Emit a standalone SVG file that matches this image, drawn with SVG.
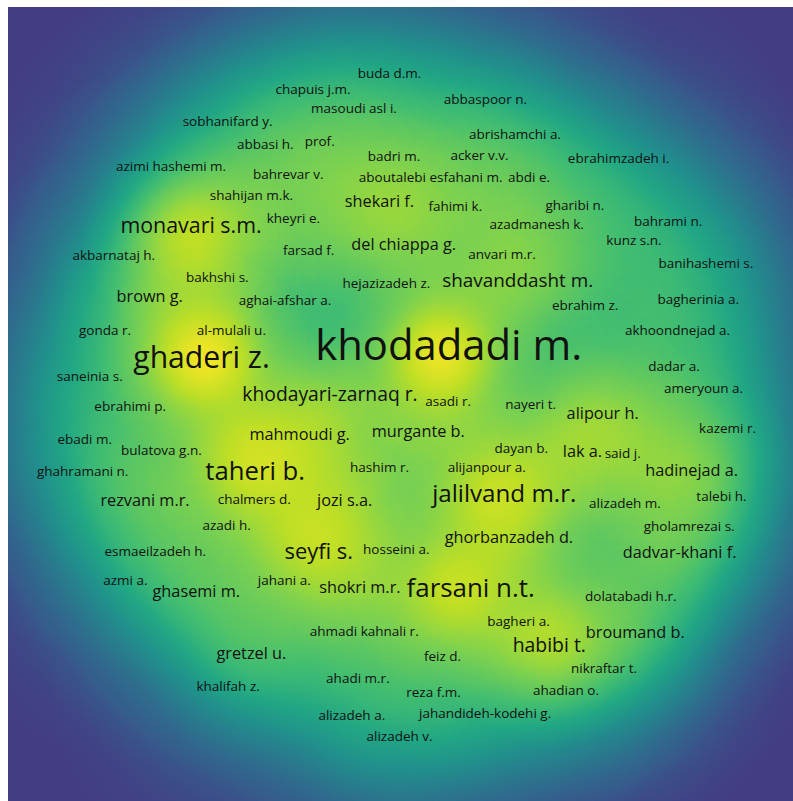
<svg xmlns="http://www.w3.org/2000/svg" width="793" height="801" viewBox="0 0 793 801">
<defs>
<style>
.lbl{font-family:"Open Sans","DejaVu Sans",sans-serif;fill:#111;text-anchor:middle}
.s{font-size:13.5px}
.m{font-size:16.3px}
.k{fill:url(#kg)}
.b1{fill-opacity:.15}
.b2{fill-opacity:.19}
.b3{fill-opacity:.23}
</style>
<radialGradient id="kg">
<stop offset="0" stop-color="#fff" stop-opacity="1"/>
<stop offset="0.1" stop-color="#fff" stop-opacity="0.966"/>
<stop offset="0.2" stop-color="#fff" stop-opacity="0.871"/>
<stop offset="0.3" stop-color="#fff" stop-opacity="0.733"/>
<stop offset="0.4" stop-color="#fff" stop-opacity="0.575"/>
<stop offset="0.5" stop-color="#fff" stop-opacity="0.421"/>
<stop offset="0.6" stop-color="#fff" stop-opacity="0.287"/>
<stop offset="0.7" stop-color="#fff" stop-opacity="0.183"/>
<stop offset="0.8" stop-color="#fff" stop-opacity="0.109"/>
<stop offset="0.9" stop-color="#fff" stop-opacity="0.055"/>
<stop offset="1" stop-color="#fff" stop-opacity="0"/>
</radialGradient>
<filter id="vir" filterUnits="userSpaceOnUse" x="8" y="7" width="785" height="794" color-interpolation-filters="sRGB">
<feComponentTransfer>
<feFuncR type="table" tableValues="0.263 0.208 0.165 0.129 0.133 0.267 0.478 0.741 0.992"/>
<feFuncG type="table" tableValues="0.243 0.373 0.471 0.569 0.659 0.749 0.820 0.875 0.906"/>
<feFuncB type="table" tableValues="0.522 0.553 0.557 0.549 0.518 0.439 0.318 0.149 0.145"/>
</feComponentTransfer>
</filter>
</defs>
<rect width="793" height="801" fill="#fff"/>
<g id="density" filter="url(#vir)">
<rect x="8" y="7" width="785" height="794" fill="#000"/>
<g class="k">
<circle class="b1" cx="389.5" cy="74" r="180"/>
<circle class="b1" cx="313" cy="90" r="180"/>
<circle class="b1" cx="354" cy="109" r="180"/>
<circle class="b1" cx="485.4" cy="100" r="180"/>
<circle class="b1" cx="227.6" cy="122" r="180"/>
<circle class="b1" cx="265.3" cy="145" r="180"/>
<circle class="b1" cx="319.7" cy="142" r="180"/>
<circle class="b1" cx="515" cy="135" r="180"/>
<circle class="b1" cx="394" cy="157" r="180"/>
<circle class="b1" cx="479.5" cy="156" r="180"/>
<circle class="b1" cx="618.6" cy="159" r="180"/>
<circle class="b1" cx="171" cy="167" r="180"/>
<circle class="b1" cx="288.3" cy="175" r="180"/>
<circle class="b1" cx="430.7" cy="178" r="180"/>
<circle class="b1" cx="529" cy="178" r="180"/>
<circle class="b1" cx="251.4" cy="196" r="180"/>
<circle class="b1" cx="455.3" cy="207" r="180"/>
<circle class="b1" cx="574.9" cy="206" r="180"/>
<circle class="b1" cx="293.4" cy="219" r="180"/>
<circle class="b1" cx="536.7" cy="225" r="180"/>
<circle class="b1" cx="668.2" cy="222" r="180"/>
<circle class="b1" cx="634" cy="241" r="180"/>
<circle class="b1" cx="113.8" cy="256" r="180"/>
<circle class="b1" cx="308.6" cy="251" r="180"/>
<circle class="b1" cx="502" cy="255" r="180"/>
<circle class="b1" cx="705.9" cy="264" r="180"/>
<circle class="b1" cx="217.3" cy="278" r="180"/>
<circle class="b1" cx="386.4" cy="284" r="180"/>
<circle class="b1" cx="285" cy="300" r="180"/>
<circle class="b1" cx="585.2" cy="306" r="180"/>
<circle class="b1" cx="698.3" cy="300" r="180"/>
<circle class="b1" cx="105" cy="331" r="180"/>
<circle class="b1" cx="231.4" cy="332" r="180"/>
<circle class="b1" cx="677.5" cy="331" r="180"/>
<circle class="b1" cx="89.8" cy="377" r="180"/>
<circle class="b1" cx="674" cy="367" r="180"/>
<circle class="b1" cx="703.6" cy="389" r="180"/>
<circle class="b1" cx="448.2" cy="402" r="180"/>
<circle class="b1" cx="530.6" cy="405" r="180"/>
<circle class="b1" cx="130.2" cy="407" r="180"/>
<circle class="b1" cx="727.6" cy="429" r="180"/>
<circle class="b1" cx="84.7" cy="440" r="180"/>
<circle class="b1" cx="161.4" cy="451" r="180"/>
<circle class="b1" cx="521.2" cy="449" r="180"/>
<circle class="b1" cx="622.7" cy="454" r="180"/>
<circle class="b1" cx="82.7" cy="472" r="180"/>
<circle class="b1" cx="379.6" cy="468" r="180"/>
<circle class="b1" cx="486.8" cy="468" r="180"/>
<circle class="b1" cx="254.2" cy="500" r="180"/>
<circle class="b1" cx="625" cy="504" r="180"/>
<circle class="b1" cx="721.5" cy="497" r="180"/>
<circle class="b1" cx="226.6" cy="526" r="180"/>
<circle class="b1" cx="689.2" cy="527" r="180"/>
<circle class="b1" cx="155.3" cy="552" r="180"/>
<circle class="b1" cx="396.3" cy="550" r="180"/>
<circle class="b1" cx="125.4" cy="581" r="180"/>
<circle class="b1" cx="284.3" cy="581" r="180"/>
<circle class="b1" cx="630.8" cy="597" r="180"/>
<circle class="b1" cx="518.5" cy="622" r="180"/>
<circle class="b1" cx="364.2" cy="632" r="180"/>
<circle class="b1" cx="442.6" cy="657" r="180"/>
<circle class="b1" cx="604" cy="669" r="180"/>
<circle class="b1" cx="228.1" cy="687" r="180"/>
<circle class="b1" cx="357.9" cy="679" r="180"/>
<circle class="b1" cx="433.5" cy="693" r="180"/>
<circle class="b1" cx="566" cy="691" r="180"/>
<circle class="b1" cx="351.8" cy="716" r="180"/>
<circle class="b1" cx="485.1" cy="714" r="180"/>
<circle class="b1" cx="399.6" cy="737" r="180"/>
<circle class="b2" cx="379.4" cy="202" r="180"/>
<circle class="b2" cx="403.7" cy="245" r="180"/>
<circle class="b2" cx="149.7" cy="297" r="180"/>
<circle class="b2" cx="299.7" cy="435" r="180"/>
<circle class="b2" cx="418.3" cy="432" r="180"/>
<circle class="b2" cx="602.7" cy="414" r="180"/>
<circle class="b2" cx="582.5" cy="452" r="180"/>
<circle class="b2" cx="691.7" cy="470" r="180"/>
<circle class="b2" cx="145" cy="501" r="180"/>
<circle class="b2" cx="344.7" cy="501" r="180"/>
<circle class="b2" cx="508.9" cy="538" r="180"/>
<circle class="b2" cx="679.6" cy="553" r="180"/>
<circle class="b2" cx="359.9" cy="588" r="180"/>
<circle class="b2" cx="196.3" cy="592" r="180"/>
<circle class="b2" cx="635.3" cy="633" r="180"/>
<circle class="b2" cx="251.4" cy="654" r="180"/>
<circle class="b3" cx="517.7" cy="281" r="180"/>
<circle class="b3" cx="330" cy="395" r="180"/>
<circle class="b3" cx="549.3" cy="646" r="180"/>
<circle class="b3" cx="191" cy="227" r="180"/>
<circle class="b3" cx="318.7" cy="553" r="180"/>
<circle class="b3" cx="504.3" cy="494" r="180"/>
<circle class="b3" cx="255.2" cy="472" r="180"/>
<circle class="b3" cx="470.7" cy="589" r="180"/>
<circle class="b3" cx="201.6" cy="359" r="180"/>
<circle class="b3" cx="446" cy="350" r="180"/>
<circle fill-opacity=".2" cx="379.4" cy="205" r="110"/>
<circle fill-opacity=".15" cx="403.7" cy="245" r="110"/>
<circle fill-opacity=".15" cx="149.7" cy="297" r="110"/>
<circle fill-opacity=".3" cx="295" cy="440" r="110"/>
<circle fill-opacity=".2" cx="418.3" cy="432" r="110"/>
<circle fill-opacity=".3" cx="598" cy="420" r="110"/>
<circle fill-opacity=".2" cx="582.5" cy="452" r="110"/>
<circle fill-opacity=".3" cx="690" cy="470" r="110"/>
<circle fill-opacity=".15" cx="145" cy="501" r="110"/>
<circle fill-opacity=".2" cx="344.7" cy="501" r="110"/>
<circle fill-opacity=".2" cx="508.9" cy="538" r="110"/>
<circle fill-opacity=".2" cx="679.6" cy="553" r="110"/>
<circle fill-opacity=".2" cx="359.9" cy="588" r="110"/>
<circle fill-opacity=".15" cx="196.3" cy="592" r="110"/>
<circle fill-opacity=".2" cx="635.3" cy="633" r="110"/>
<circle fill-opacity=".2" cx="251.4" cy="654" r="110"/>
<circle fill-opacity=".3" cx="517.7" cy="281" r="110"/>
<circle fill-opacity=".35" cx="330" cy="400" r="110"/>
<circle fill-opacity=".55" cx="549.3" cy="640" r="110"/>
<circle fill-opacity=".63" cx="191" cy="235" r="110"/>
<circle fill-opacity=".55" cx="315" cy="540" r="110"/>
<circle fill-opacity=".6" cx="500" cy="495" r="110"/>
<circle fill-opacity=".67" cx="252" cy="460" r="110"/>
<circle fill-opacity=".65" cx="455" cy="590" r="110"/>
<circle fill-opacity=".94" cx="205" cy="358" r="110"/>
<circle fill-opacity=".9" cx="440" cy="355" r="110"/>
</g>
</g>
<g id="labels" class="lbl">
<g id="n-buda"><text class="s" x="389.5" y="77.7">buda d.m.</text></g>
<g id="n-chapuis"><text class="s" x="313" y="94">chapuis j.m.</text></g>
<g id="n-masoudi"><text class="s" x="354" y="112.7">masoudi asl i.</text></g>
<g id="n-abbaspoor"><text class="s" x="485.4" y="104">abbaspoor n.</text></g>
<g id="n-sobhanifard"><text class="s" x="227.6" y="126">sobhanifard y.</text></g>
<g id="n-abbasi"><text class="s" x="265.3" y="149.3">abbasi h.</text></g>
<g id="n-prof"><text class="s" x="319.7" y="145.7">prof.</text></g>
<g id="n-abrishamchi"><text class="s" x="515" y="138.7">abrishamchi a.</text></g>
<g id="n-badri"><text class="s" x="394" y="160.7">badri m.</text></g>
<g id="n-acker"><text class="s" x="479.5" y="160">acker v.v.</text></g>
<g id="n-ebrahimzadeh"><text class="s" x="618.6" y="162.7">ebrahimzadeh i.</text></g>
<g id="n-azimihashemi"><text class="s" x="171" y="171.3">azimi hashemi m.</text></g>
<g id="n-bahrevar"><text class="s" x="288.3" y="178.7">bahrevar v.</text></g>
<g id="n-aboutalebi"><text class="s" x="430.7" y="181.7">aboutalebi esfahani m.</text></g>
<g id="n-abdi"><text class="s" x="529" y="181.7">abdi e.</text></g>
<g id="n-shahijan"><text class="s" x="251.4" y="199.7">shahijan m.k.</text></g>
<g id="n-fahimi"><text class="s" x="455.3" y="211.3">fahimi k.</text></g>
<g id="n-gharibi"><text class="s" x="574.9" y="210">gharibi n.</text></g>
<g id="n-kheyri"><text class="s" x="293.4" y="222.7">kheyri e.</text></g>
<g id="n-azadmanesh"><text class="s" x="536.7" y="229">azadmanesh k.</text></g>
<g id="n-bahrami"><text class="s" x="668.2" y="225.7">bahrami n.</text></g>
<g id="n-kunz"><text class="s" x="634" y="245.3">kunz s.n.</text></g>
<g id="n-akbarnataj"><text class="s" x="113.8" y="260.3">akbarnataj h.</text></g>
<g id="n-farsad"><text class="s" x="308.6" y="255">farsad f.</text></g>
<g id="n-anvari"><text class="s" x="502" y="259.3">anvari m.r.</text></g>
<g id="n-banihashemi"><text class="s" x="705.9" y="268">banihashemi s.</text></g>
<g id="n-bakhshi"><text class="s" x="217.3" y="281.7">bakhshi s.</text></g>
<g id="n-hejazizadeh"><text class="s" x="386.4" y="287.7">hejazizadeh z.</text></g>
<g id="n-aghaiafshar"><text class="s" x="285" y="304.5">aghai-afshar a.</text></g>
<g id="n-ebrahimz"><text class="s" x="585.2" y="310">ebrahim z.</text></g>
<g id="n-bagherinia"><text class="s" x="698.3" y="304">bagherinia a.</text></g>
<g id="n-gonda"><text class="s" x="105" y="334.7">gonda r.</text></g>
<g id="n-almulali"><text class="s" x="231.4" y="335">al-mulali u.</text></g>
<g id="n-akhoondnejad"><text class="s" x="677.5" y="335">akhoondnejad a.</text></g>
<g id="n-saneinia"><text class="s" x="89.8" y="381.3">saneinia s.</text></g>
<g id="n-dadar"><text class="s" x="674" y="370.7">dadar a.</text></g>
<g id="n-ameryoun"><text class="s" x="703.6" y="392.7">ameryoun a.</text></g>
<g id="n-asadi"><text class="s" x="448.2" y="406">asadi r.</text></g>
<g id="n-nayeri"><text class="s" x="530.6" y="409.3">nayeri t.</text></g>
<g id="n-ebrahimip"><text class="s" x="130.2" y="410.7">ebrahimi p.</text></g>
<g id="n-kazemi"><text class="s" x="727.6" y="432.7">kazemi r.</text></g>
<g id="n-ebadi"><text class="s" x="84.7" y="444.3">ebadi m.</text></g>
<g id="n-bulatova"><text class="s" x="161.4" y="455">bulatova g.n.</text></g>
<g id="n-dayan"><text class="s" x="521.2" y="453.3">dayan b.</text></g>
<g id="n-said"><text class="s" x="622.7" y="457.7">said j.</text></g>
<g id="n-ghahramani"><text class="s" x="82.7" y="476">ghahramani n.</text></g>
<g id="n-hashim"><text class="s" x="379.6" y="471.7">hashim r.</text></g>
<g id="n-alijanpour"><text class="s" x="486.8" y="471.7">alijanpour a.</text></g>
<g id="n-chalmers"><text class="s" x="254.2" y="504">chalmers d.</text></g>
<g id="n-alizadehm"><text class="s" x="625" y="508.3">alizadeh m.</text></g>
<g id="n-talebi"><text class="s" x="721.5" y="500.7">talebi h.</text></g>
<g id="n-azadi"><text class="s" x="226.6" y="530">azadi h.</text></g>
<g id="n-gholamrezai"><text class="s" x="689.2" y="531">gholamrezai s.</text></g>
<g id="n-esmaeilzadeh"><text class="s" x="155.3" y="555.7">esmaeilzadeh h.</text></g>
<g id="n-hosseini"><text class="s" x="396.3" y="554.3">hosseini a.</text></g>
<g id="n-azmi"><text class="s" x="125.4" y="585.3">azmi a.</text></g>
<g id="n-jahani"><text class="s" x="284.3" y="585">jahani a.</text></g>
<g id="n-dolatabadi"><text class="s" x="630.8" y="600.7">dolatabadi h.r.</text></g>
<g id="n-bagheri"><text class="s" x="518.5" y="626.3">bagheri a.</text></g>
<g id="n-ahmadikahnali"><text class="s" x="364.2" y="635.7">ahmadi kahnali r.</text></g>
<g id="n-feiz"><text class="s" x="442.6" y="660.7">feiz d.</text></g>
<g id="n-nikraftar"><text class="s" x="604" y="672.7">nikraftar t.</text></g>
<g id="n-khalifah"><text class="s" x="228.1" y="690.7">khalifah z.</text></g>
<g id="n-ahadi"><text class="s" x="357.9" y="683.3">ahadi m.r.</text></g>
<g id="n-reza"><text class="s" x="433.5" y="696.7">reza f.m.</text></g>
<g id="n-ahadian"><text class="s" x="566" y="695">ahadian o.</text></g>
<g id="n-alizadeha"><text class="s" x="351.8" y="720">alizadeh a.</text></g>
<g id="n-jahandideh"><text class="s" x="485.1" y="718">jahandideh-kodehi g.</text></g>
<g id="n-alizadehv"><text class="s" x="399.6" y="741">alizadeh v.</text></g>
<g id="n-shekari"><text class="m" x="379.4" y="207.3">shekari f.</text></g>
<g id="n-delchiappa"><text class="m" x="403.7" y="250">del chiappa g.</text></g>
<g id="n-brown"><text class="m" x="149.7" y="301.7">brown g.</text></g>
<g id="n-mahmoudi"><text class="m" x="299.7" y="440">mahmoudi g.</text></g>
<g id="n-murgante"><text class="m" x="418.3" y="437.3">murgante b.</text></g>
<g id="n-alipour"><text class="m" x="602.7" y="419">alipour h.</text></g>
<g id="n-lak"><text class="m" x="582.5" y="456.7">lak a.</text></g>
<g id="n-hadinejad"><text class="m" x="691.7" y="475.5">hadinejad a.</text></g>
<g id="n-rezvani"><text class="m" x="145" y="506">rezvani m.r.</text></g>
<g id="n-jozi"><text class="m" x="344.7" y="506.3">jozi s.a.</text></g>
<g id="n-ghorbanzadeh"><text class="m" x="508.9" y="542.7">ghorbanzadeh d.</text></g>
<g id="n-dadvarkhani"><text class="m" x="679.6" y="557.7">dadvar-khani f.</text></g>
<g id="n-shokri"><text class="m" x="359.9" y="592.7">shokri m.r.</text></g>
<g id="n-ghasemi"><text class="m" x="196.3" y="596.7">ghasemi m.</text></g>
<g id="n-broumand"><text class="m" x="635.3" y="638.3">broumand b.</text></g>
<g id="n-gretzel"><text class="m" x="251.4" y="659">gretzel u.</text></g>
<g id="n-shavanddasht"><text x="517.7" y="286.7" font-size="18.9">shavanddasht m.</text></g>
<g id="n-khodayari"><text x="330" y="401" font-size="19.3">khodayari-zarnaq r.</text></g>
<g id="n-habibi"><text x="549.3" y="651.7" font-size="19.4">habibi t.</text></g>
<g id="n-monavari"><text x="191" y="233.3" font-size="21.4">monavari s.m.</text></g>
<g id="n-seyfi"><text x="318.7" y="559.3" font-size="21.9">seyfi s.</text></g>
<g id="n-jalilvand"><text x="504.3" y="501.7" font-size="24.2">jalilvand m.r.</text></g>
<g id="n-taheri"><text x="255.2" y="480" font-size="25.7">taheri b.</text></g>
<g id="n-farsani"><text x="470.7" y="596.7" font-size="25.9">farsani n.t.</text></g>
<g id="n-ghaderi"><text x="201.6" y="368.3" font-size="30.1">ghaderi z.</text></g>
<g id="n-khodadadi"><text x="448.7" y="360" font-size="41.8">khodadadi m.</text></g>
</g>
</svg>
